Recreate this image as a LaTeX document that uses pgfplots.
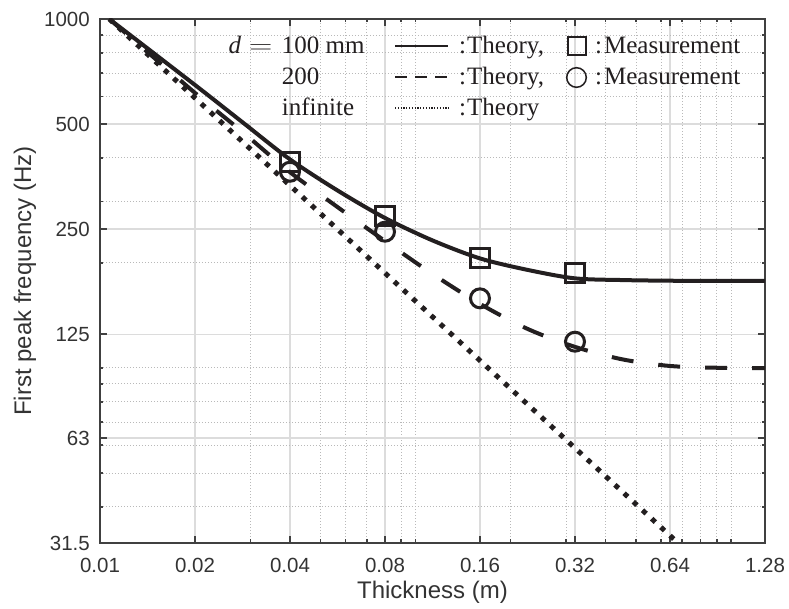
\documentclass[border=0pt]{standalone}
\usepackage{fontspec}
\setmainfont{Liberation Serif}
\newfontfamily\sansf{Liberation Sans}
\usepackage{pgfplots}
\pgfplotsset{compat=1.18}
\definecolor{axgray}{RGB}{64,64,64}
\definecolor{txtgray}{RGB}{51,51,51}
\definecolor{majgrid}{RGB}{220,220,220}
\definecolor{mingrid}{RGB}{185,185,185}
\definecolor{ink}{RGB}{35,31,32}

\begin{document}
\begin{tikzpicture}
\begin{axis}[
  at={(0pt,0pt)}, anchor=south west,
  scale only axis, width=665pt, height=524pt,
  xmode=log, ymode=log,
  xmin=0.01, xmax=1.28, ymin=31.5, ymax=1000,
  xtick={0.01,0.02,0.04,0.08,0.16,0.32,0.64,1.28},
  xticklabels={0.01,0.02,0.04,0.08,0.16,0.32,0.64,1.28},
  ytick={31.5,63,125,250,500,1000},
  yticklabels={31.5,63,125,250,500,1000},
  minor xtick={0.03,0.05,0.06,0.07,0.09,0.1,0.2,0.3,0.4,0.5,0.6,0.7,0.8,0.9,1.0},
  minor ytick={40,50,60,70,80,90,100,200,300,400,600,700,800,900},
  grid=both,
  major grid style={majgrid, line width=1.2pt},
  minor grid style={mingrid, line width=0.9pt, dash pattern=on 1pt off 2pt},
  axis line style={axgray, line width=2.5pt},
  tick style={axgray, line width=1.8pt},
  major tick length=7pt, minor tick length=3.5pt,
  tick align=inside,
  /pgf/number format/assume math mode=true,
  every tick label/.append style={font=\sansf\fontsize{20.5}{24}\selectfont, text=txtgray, inner sep=0pt},
  xticklabel shift=15pt,
  yticklabel shift=10pt,
  xlabel={Thickness (m)},
  ylabel={First peak frequency (Hz)},
  xlabel style={font=\sansf\fontsize{24}{28}\selectfont, text=txtgray, at={(axis description cs:0.5,-0.0935)}, anchor=center},
  ylabel style={font=\sansf\fontsize{24}{28}\selectfont, text=txtgray, at={(axis description cs:-0.1128,0.5)}, anchor=center},
]
% d = 100 mm theory
\addplot[ink, line width=4pt, smooth] coordinates {
 (0.0107,1000) (0.02,647) (0.02828,506) (0.04,396) (0.0566,322.5) (0.08,269)
 (0.1131,232) (0.16,206) (0.2263,191) (0.32,180.6) (0.4525,178.6) (0.64,177.8)
 (0.905,177.7) (1.28,177.6)};
% d = 200 mm theory
\addplot[ink, line width=4pt, smooth, dash pattern=on 22pt off 25pt] coordinates {
 (0.0107,1000) (0.02,614) (0.02828,474.6) (0.04,364) (0.0566,289) (0.08,231)
 (0.1131,186) (0.16,152.6) (0.2263,129.4) (0.32,114.9) (0.4525,105.8) (0.64,101.3)
 (0.905,100.1) (1.28,99.9)};
% infinite theory
\addplot[ink, line width=5pt, dash pattern=on 5pt off 7.5pt] coordinates {
 (0.0107,1000) (0.70,30.7)};
% measurements
\addplot[ink, only marks, mark=square, mark size=9.5pt, mark options={line width=3pt, fill=none}] coordinates {
 (0.04,390) (0.08,272.5) (0.16,207) (0.32,186.7)};
\addplot[ink, only marks, mark=o, mark size=9.5pt, mark options={line width=3pt, fill=none}] coordinates {
 (0.04,365) (0.08,245.7) (0.16,158.3) (0.32,118.9)};
\end{axis}
% legend
\begin{scope}[every node/.style={anchor=base west, inner sep=0pt, text=ink, font=\fontsize{25}{30}\selectfont}]
\node at (128.3pt,489.7pt) {\textit{d}};
\node[anchor=base] at (160.8pt,489.7pt) {\scalebox{1.3}[1]{$=$}};
\node at (181.7pt,489.7pt) {100 mm};
\node at (181.7pt,458.5pt) {200};
\node at (181.7pt,427.3pt) {infinite};
\node at (359pt,489.7pt) {:\kern1pt Theory,};
\node at (359pt,458.5pt) {:\kern1pt Theory,};
\node at (359pt,427.3pt) {:\kern1pt Theory};
\node at (495pt,489.7pt) {:\kern2pt Measurement};
\node at (495pt,458.5pt) {:\kern2pt Measurement};
\end{scope}
\draw[ink, line width=1.8pt] (295pt,497.3pt) -- (348.3pt,497.3pt);
\draw[ink, line width=1.8pt, dash pattern=on 12pt off 8pt] (295pt,466.1pt) -- (348.3pt,466.1pt);
\draw[ink, line width=1.3pt, dash pattern=on 1.2pt off 1.6pt] (295pt,434.9pt) -- (348.3pt,434.9pt);
\draw[ink, line width=1.5pt] (468pt,488.2pt) rectangle (486pt,506.2pt);
\draw[ink, line width=1.5pt] (476.5pt,465.5pt) circle (9.8pt);
\pgfresetboundingbox
\path (-100pt,-65pt) rectangle (689pt,543pt);
\end{tikzpicture}
\end{document}
